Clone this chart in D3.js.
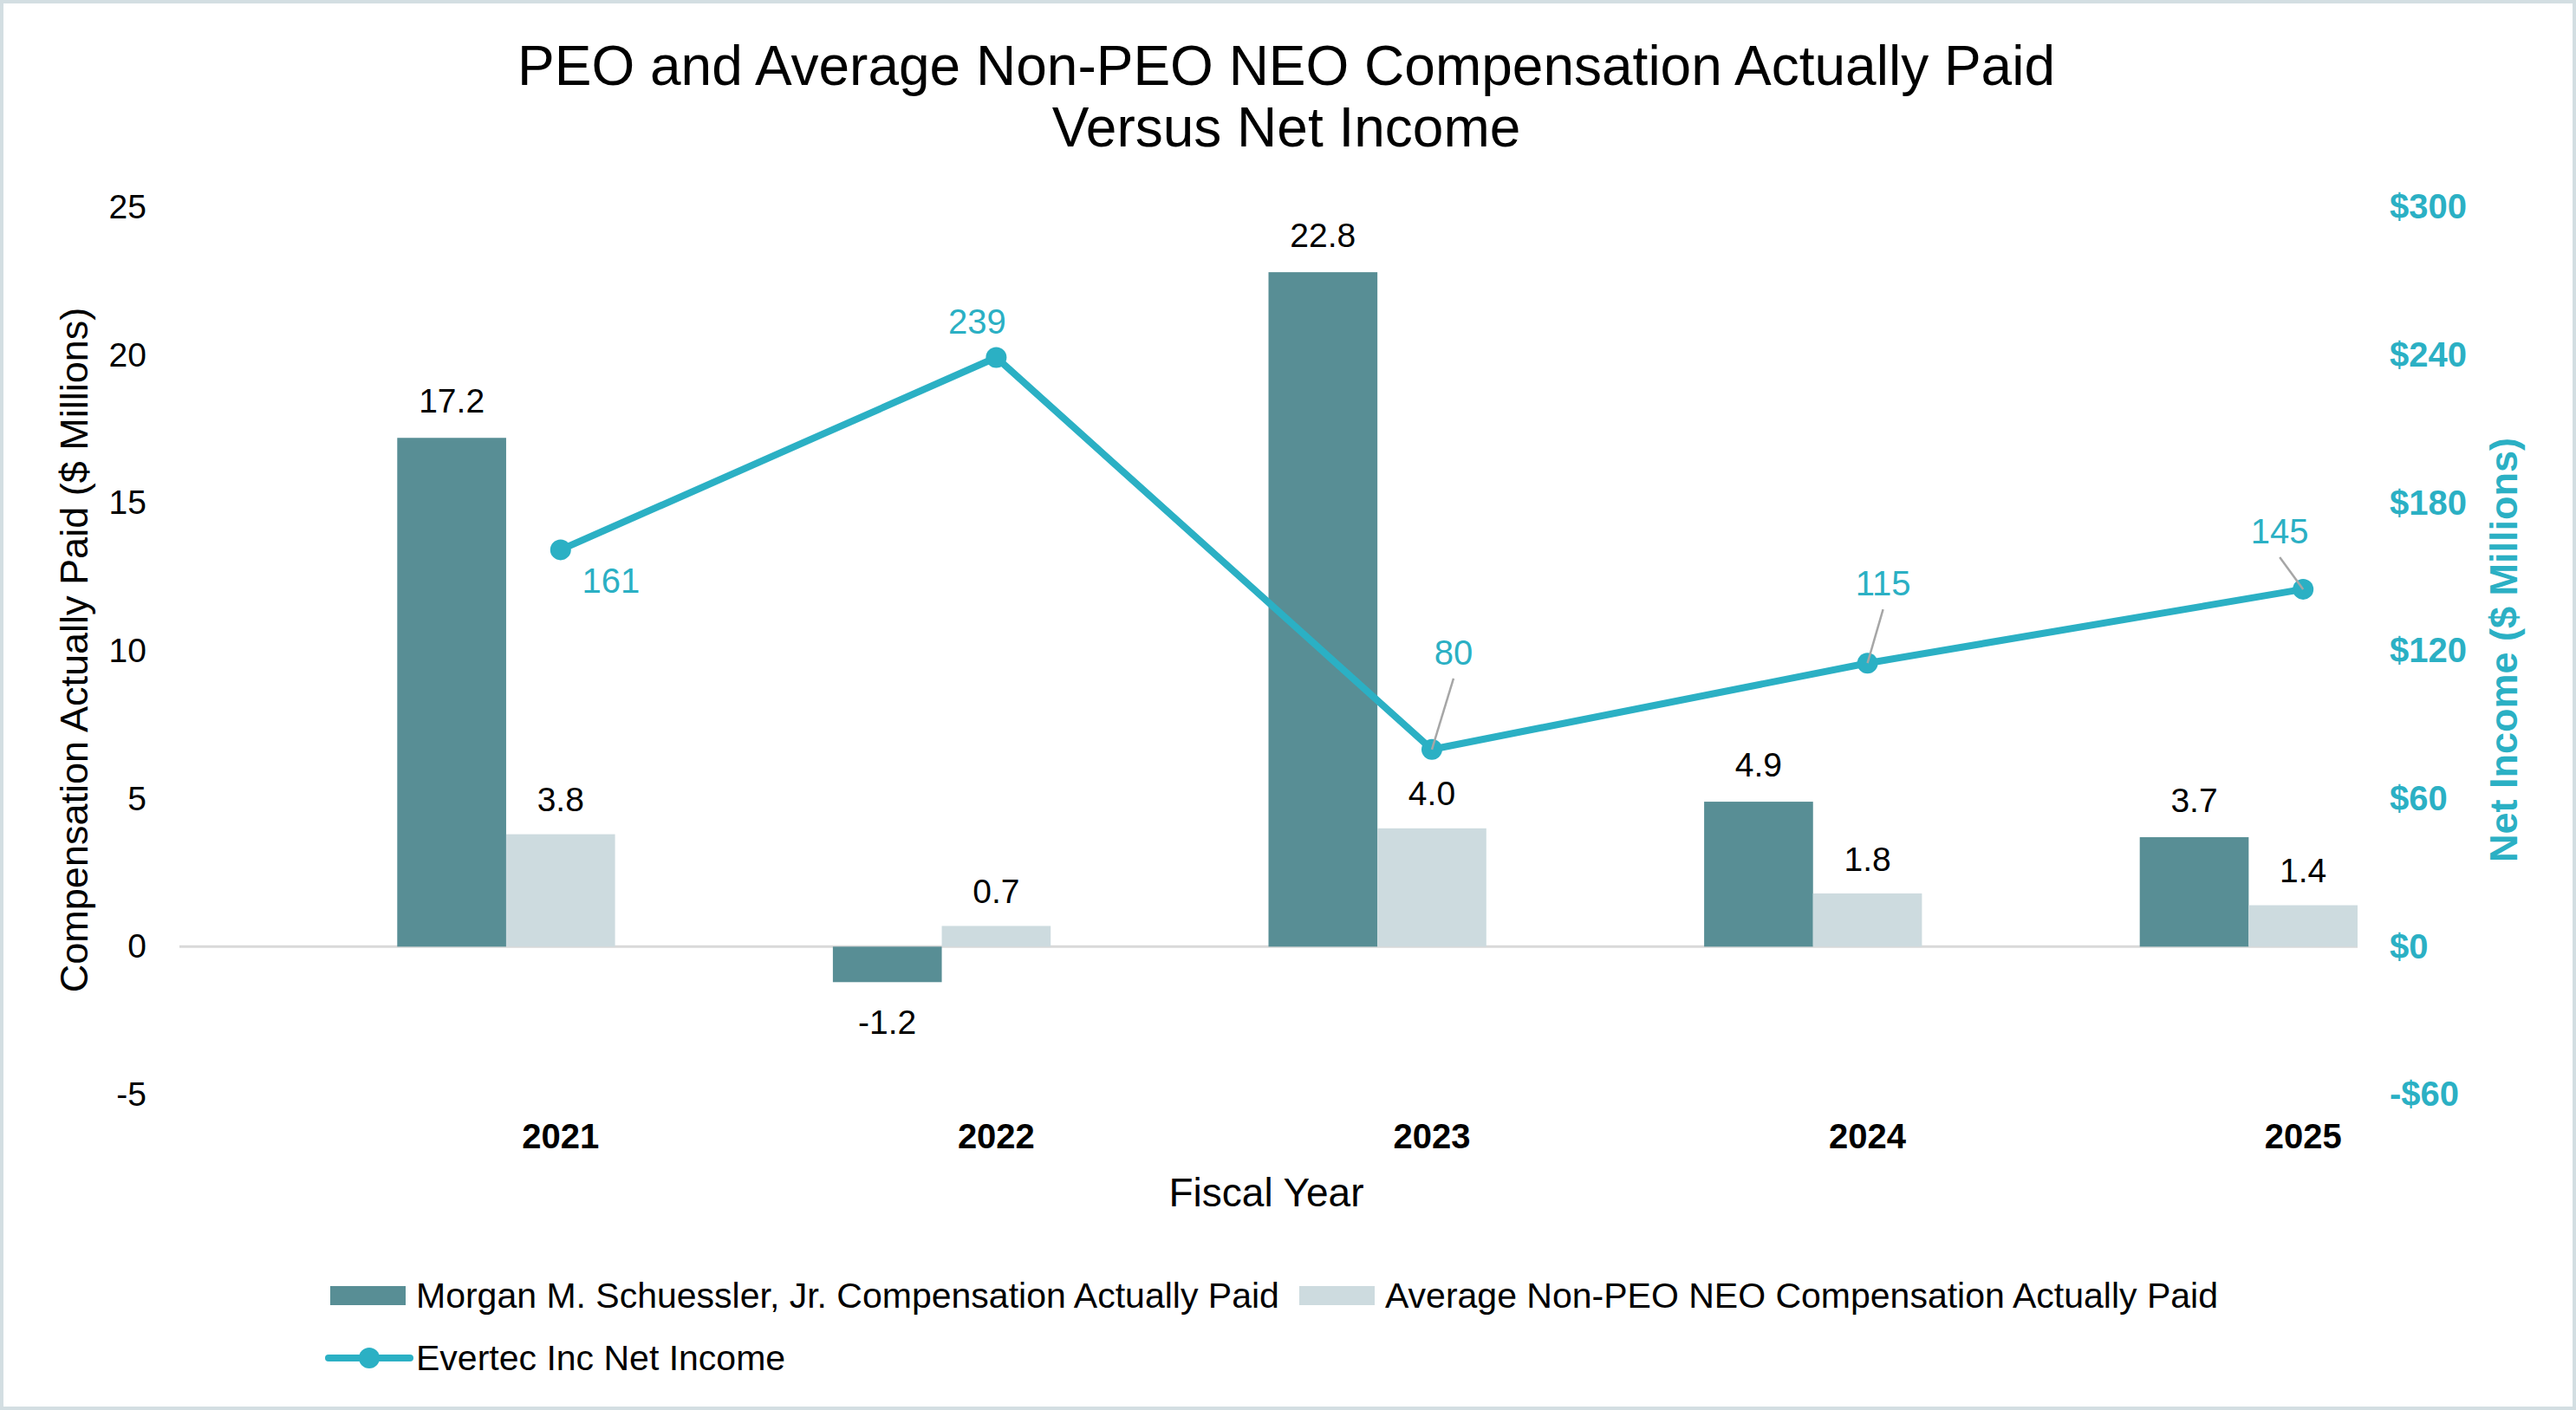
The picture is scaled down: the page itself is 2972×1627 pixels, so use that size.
<!DOCTYPE html>
<html>
<head>
<meta charset="utf-8">
<script src="https://cdn.jsdelivr.net/npm/d3@7"></script>
<style>
  body { margin: 0; background: #fff; }
  text { font-family: "Liberation Sans", Arial, sans-serif; }
</style>
</head>
<body>
<svg id="chart" width="2972" height="1627"></svg>
<script>
// chart data
const years = ['2021', '2022', '2023', '2024', '2025']
const peoCap = [17.2, -1.2, 22.8, 4.9, 3.7]
const neoCap = [3.8, 0.7, 4.0, 1.8, 1.4]
const netIncome = [161, 239, 80, 115, 145]
const leftTicks = [-5, 0, 5, 10, 15, 20, 25]
const rightTicks = [-60, 0, 60, 120, 180, 240, 300]
const seriesNames = [
  'Morgan M. Schuessler, Jr. Compensation Actually Paid',
  'Average Non-PEO NEO Compensation Actually Paid',
  'Evertec Inc Net Income'
]

const W = 2972
const H = 1627
const margin = { left: 207, right: 252, top: 239, bottom: 364 }
const darkColor = '#588e95'
const lightColor = '#cddbdf'
const lineColor = '#2bb0c4'

// where the net income labels sit relative to their point (dx, dy, leader line?)
const niLabelPos = [
  { dx: 58, dy: 36, leader: false },
  { dx: -22, dy: -42, leader: false },
  { dx: 25, dy: -112, leader: true },
  { dx: 18, dy: -92, leader: true },
  { dx: -27, dy: -67, leader: true }
]

const svg = d3.select('#chart')

// outer frame
svg.append('rect')
  .attr('x', 2).attr('y', 2)
  .attr('width', W - 4).attr('height', H - 4)
  .attr('fill', '#fff')
  .attr('stroke', '#d3dee2')
  .attr('stroke-width', 4)

const x = d3.scaleBand().domain(years).range([margin.left, W - margin.right])
const bw = x.bandwidth()
const yL = d3.scaleLinear().domain([-5, 25]).range([H - margin.bottom, margin.top])
const yR = d3.scaleLinear().domain([-60, 300]).range([H - margin.bottom, margin.top])
const lineX = (d) => x(d) + bw * 0.875

// title
svg.append('text')
  .attr('x', 1484).attr('y', 76)
  .attr('text-anchor', 'middle').attr('dy', '0.35em')
  .attr('font-size', 64).attr('fill', '#000')
  .text('PEO and Average Non-PEO NEO Compensation Actually Paid')
svg.append('text')
  .attr('x', 1484).attr('y', 147)
  .attr('text-anchor', 'middle').attr('dy', '0.35em')
  .attr('font-size', 64).attr('fill', '#000')
  .text('Versus Net Income')

// left axis
const axL = svg.append('g')
  .attr('transform', `translate(${margin.left},0)`)
  .call(d3.axisLeft(yL).tickValues(leftTicks).tickSize(0).tickPadding(38).tickFormat((d) => String(d)))
axL.select('.domain').remove()
axL.selectAll('text')
  .attr('font-size', 39).attr('fill', '#000')
  .style('font-family', '"Liberation Sans", Arial, sans-serif')

// right axis
const axR = svg.append('g')
  .attr('transform', `translate(${W - margin.right},0)`)
  .call(d3.axisRight(yR).tickValues(rightTicks).tickSize(0).tickPadding(37)
    .tickFormat((d) => (d < 0 ? '-$' : '$') + Math.abs(d)))
axR.select('.domain').remove()
axR.selectAll('text')
  .attr('font-size', 40).attr('font-weight', 'bold').attr('fill', lineColor)
  .style('font-family', '"Liberation Sans", Arial, sans-serif')

// axis titles
svg.append('text')
  .attr('transform', `translate(85,750) rotate(-90)`)
  .attr('text-anchor', 'middle').attr('dy', '0.35em')
  .attr('font-size', 45).attr('fill', '#000')
  .text('Compensation Actually Paid ($ Millions)')
svg.append('text')
  .attr('transform', `translate(2888,750) rotate(-90)`)
  .attr('text-anchor', 'middle').attr('dy', '0.35em')
  .attr('font-size', 45).attr('font-weight', 'bold').attr('fill', lineColor)
  .text('Net Income ($ Millions)')

// zero line
svg.append('line')
  .attr('x1', margin.left).attr('x2', W - margin.right)
  .attr('y1', yL(0)).attr('y2', yL(0))
  .attr('stroke', '#d9d9d9').attr('stroke-width', 3)

// bars
const bars = svg.append('g')
bars.selectAll('rect.peo')
  .data(years)
  .join('rect')
  .attr('class', 'peo')
  .attr('x', (d) => x(d) + bw * 0.5)
  .attr('width', bw * 0.25)
  .attr('y', (d, i) => yL(Math.max(0, peoCap[i])))
  .attr('height', (d, i) => Math.abs(yL(peoCap[i]) - yL(0)))
  .attr('fill', darkColor)
bars.selectAll('rect.neo')
  .data(years)
  .join('rect')
  .attr('class', 'neo')
  .attr('x', (d) => x(d) + bw * 0.75)
  .attr('width', bw * 0.25)
  .attr('y', (d, i) => yL(Math.max(0, neoCap[i])))
  .attr('height', (d, i) => Math.abs(yL(neoCap[i]) - yL(0)))
  .attr('fill', lightColor)

// bar value labels
const fmt1 = (v) => v.toFixed(1)
bars.selectAll('text.peo')
  .data(years)
  .join('text')
  .attr('class', 'peo')
  .attr('x', (d) => x(d) + bw * 0.625)
  .attr('y', (d, i) => (peoCap[i] >= 0 ? yL(peoCap[i]) - 43 : yL(peoCap[i]) + 46))
  .attr('dy', '0.35em').attr('text-anchor', 'middle')
  .attr('font-size', 39).attr('fill', '#000')
  .text((d, i) => fmt1(peoCap[i]))
bars.selectAll('text.neo')
  .data(years)
  .join('text')
  .attr('class', 'neo')
  .attr('x', (d) => x(d) + bw * 0.875)
  .attr('y', (d, i) => yL(neoCap[i]) - 40)
  .attr('dy', '0.35em').attr('text-anchor', 'middle')
  .attr('font-size', 39).attr('fill', '#000')
  .text((d, i) => fmt1(neoCap[i]))

// net income line
const line = d3.line()
  .x((d, i) => lineX(years[i]))
  .y((d) => yR(d))
svg.append('path')
  .datum(netIncome)
  .attr('d', line)
  .attr('fill', 'none')
  .attr('stroke', lineColor)
  .attr('stroke-width', 8)
  .attr('stroke-linejoin', 'round')

svg.append('g').selectAll('circle')
  .data(netIncome)
  .join('circle')
  .attr('cx', (d, i) => lineX(years[i]))
  .attr('cy', (d) => yR(d))
  .attr('r', 12)
  .attr('fill', lineColor)

// leader lines + labels
const niLabels = svg.append('g')
niLabels.selectAll('line')
  .data(netIncome.filter((d, i) => niLabelPos[i].leader))
  .join('line')
  .each(function (d) {
    const i = netIncome.indexOf(d)
    const px = lineX(years[i])
    const py = yR(d)
    const p = niLabelPos[i]
    d3.select(this)
      .attr('x1', px + p.dx).attr('y1', py + p.dy + 30)
      .attr('x2', px).attr('y2', py)
  })
  .attr('stroke', '#a6a6a6').attr('stroke-width', 2.5)
niLabels.selectAll('text')
  .data(netIncome)
  .join('text')
  .attr('x', (d, i) => lineX(years[i]) + niLabelPos[i].dx)
  .attr('y', (d, i) => yR(d) + niLabelPos[i].dy)
  .attr('dy', '0.35em').attr('text-anchor', 'middle')
  .attr('font-size', 40).attr('fill', lineColor)
  .text((d) => d)

// category labels
svg.append('g').selectAll('text')
  .data(years)
  .join('text')
  .attr('x', (d) => lineX(d))
  .attr('y', 1311)
  .attr('dy', '0.35em').attr('text-anchor', 'middle')
  .attr('font-size', 40).attr('font-weight', 'bold').attr('fill', '#000')
  .text((d) => d)

svg.append('text')
  .attr('x', 1461).attr('y', 1376)
  .attr('dy', '0.35em').attr('text-anchor', 'middle')
  .attr('font-size', 46).attr('fill', '#000')
  .text('Fiscal Year')

// legend
const legend = svg.append('g')
const legendItems = [
  { name: seriesNames[0], color: darkColor, type: 'rect', x: 381, y: 1495 },
  { name: seriesNames[1], color: lightColor, type: 'rect', x: 1499, y: 1495 },
  { name: seriesNames[2], color: lineColor, type: 'line', x: 381, y: 1567 }
]
legendItems.forEach((item) => {
  const g = legend.append('g').attr('transform', `translate(${item.x},${item.y})`)
  if (item.type === 'rect') {
    g.append('rect').attr('x', 0).attr('y', -11).attr('width', 87).attr('height', 22).attr('fill', item.color)
  } else {
    g.append('line').attr('x1', -2).attr('x2', 92).attr('y1', 0).attr('y2', 0)
      .attr('stroke', item.color).attr('stroke-width', 8).attr('stroke-linecap', 'round')
    g.append('circle').attr('cx', 45).attr('cy', 0).attr('r', 12).attr('fill', item.color)
  }
  g.append('text')
    .attr('x', 99).attr('dy', '0.35em')
    .attr('font-size', 41).attr('fill', '#000')
    .text(item.name)
})
</script>
</body>
</html>
